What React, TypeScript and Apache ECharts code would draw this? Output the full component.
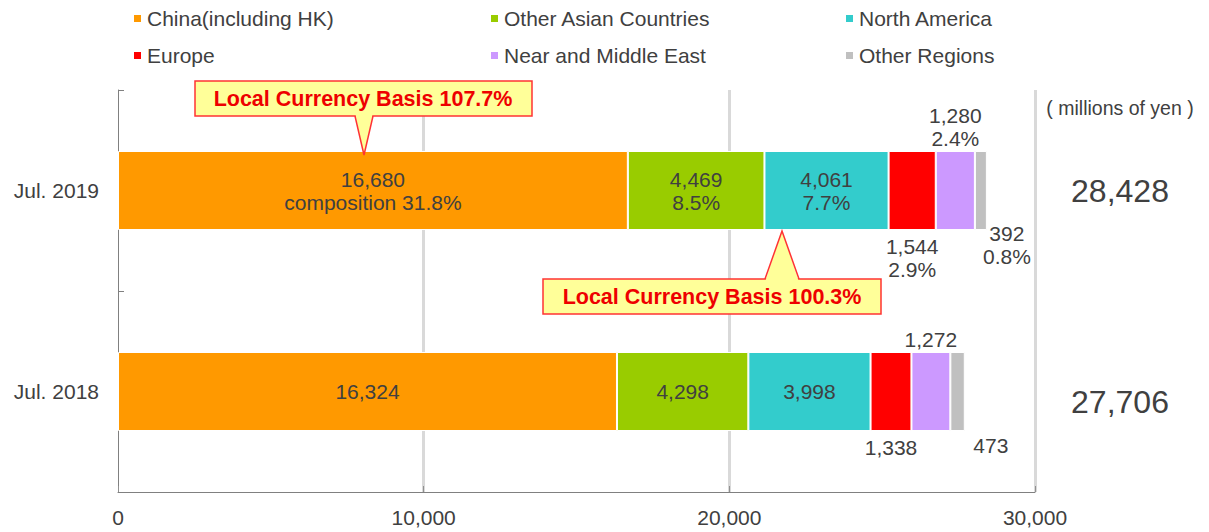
import React, { useEffect, useRef } from "react";
import * as echarts from "echarts";

const categories = ["Jul. 2018", "Jul. 2019"];
const regions = [
  "China(including HK)",
  "Other Asian Countries",
  "North America",
  "Europe",
  "Near and Middle East",
  "Other Regions",
];
const colors = ["#FF9900", "#99CC00", "#33CCCC", "#FF0000", "#CC99FF", "#C0C0C0"];
const values2018 = [16324, 4298, 3998, 1338, 1272, 473];
const values2019 = [16680, 4469, 4061, 1544, 1280, 392];
const share2019 = [31.8, 8.5, 7.7, 2.9, 2.4, 0.8];
const totals = [27706, 28428];
const xMin = 0;
const xMax = 30000;
const xInterval = 10000;
const unitLabel = "( millions of yen )";
const callouts = ["Local Currency Basis 107.7%", "Local Currency Basis 100.3%"];

const FONT = "'Liberation Sans', Arial, sans-serif";
const TXT = "#404040";
const FS = 21;

const fmt = (v: number) => v.toLocaleString("en-US");

function labelFor(i: number) {
  const base: any = {
    show: true,
    color: TXT,
    fontSize: FS,
    lineHeight: 23,
    fontFamily: FONT,
    formatter: (p: any) => {
      if (p.dataIndex === 1) {
        return i === 0
          ? `${fmt(p.value)}\ncomposition ${share2019[i]}%`
          : `${fmt(p.value)}\n${share2019[i]}%`;
      }
      return fmt(p.value);
    },
  };
  if (i < 3) return { ...base, position: "inside" };
  if (i === 3) return { ...base, position: "bottom", distance: 5 };
  if (i === 4) return { ...base, position: "top", distance: 1 };
  return { ...base, position: ["100%", "100%"], align: "center", verticalAlign: "middle" };
}

function dataFor(i: number) {
  const vals = [values2018[i], values2019[i]];
  if (i === 5) {
    return [
      { value: vals[0], label: { offset: [26, 14] } },
      { value: vals[1], label: { offset: [20, 15] } },
    ];
  }
  return vals;
}

const legendLefts = [127, 484, 839];
const legendTops = [3, 40];

export default function App() {
  const ref = useRef<HTMLDivElement>(null);
  useEffect(() => {
    if (!ref.current) return;
    const chart = echarts.init(ref.current, null, { renderer: "svg" });
    const calloutFill = "#FFFF99";
    const calloutStroke = "#FF3333";
    const calloutText = "#EE0000";
    const legends = regions.map((name, i) => ({
      left: legendLefts[i % 3],
      top: legendTops[Math.floor(i / 3)],
      itemWidth: 9,
      itemHeight: 9,
      icon: "rect",
      data: [name],
      textStyle: { fontSize: FS, color: TXT, fontFamily: FONT },
    }));
    chart.setOption({
      animation: false,
      textStyle: { fontFamily: FONT },
      legend: legends,
      grid: { left: 118, right: 174, top: 90, bottom: 40, containLabel: false },
      xAxis: {
        type: "value",
        min: xMin,
        max: xMax,
        interval: xInterval,
        axisLine: { show: true, lineStyle: { color: "#808080", width: 1 } },
        axisTick: { show: true, inside: true, length: 6, lineStyle: { color: "#909090" } },
        axisLabel: { fontSize: FS, color: TXT, fontFamily: FONT, margin: 15, formatter: (v: number) => fmt(v) },
        splitLine: { show: true, showMinLine: false, lineStyle: { color: "#D9D9D9", width: 3 } },
      },
      yAxis: {
        type: "category",
        data: categories,
        axisLine: { show: true, lineStyle: { color: "#808080", width: 1 } },
        axisTick: { show: true, inside: true, length: 6, lineStyle: { color: "#808080" } },
        axisLabel: { fontSize: FS, color: TXT, fontFamily: FONT, margin: 19 },
        splitLine: { show: false },
      },
      series: regions.map((name, i) => ({
        name,
        type: "bar",
        stack: "total",
        barWidth: 79,
        itemStyle: { color: colors[i], borderColor: "#ffffff", borderWidth: 1 },
        label: labelFor(i),
        data: dataFor(i),
      })),
      graphic: [
        {
          type: "text",
          z: 100,
          x: 1120,
          y: 108,
          style: { text: unitLabel, fill: TXT, font: `19.5px ${FONT}`, textAlign: "center", textVerticalAlign: "middle" },
        },
        {
          type: "text",
          z: 100,
          x: 1120,
          y: 191,
          style: { text: fmt(totals[1]), fill: TXT, font: `32px ${FONT}`, textAlign: "center", textVerticalAlign: "middle" },
        },
        {
          type: "text",
          z: 100,
          x: 1120,
          y: 402,
          style: { text: fmt(totals[0]), fill: TXT, font: `32px ${FONT}`, textAlign: "center", textVerticalAlign: "middle" },
        },
        // callout 1
        {
          type: "rect",
          z: 100,
          shape: { x: 195, y: 81, width: 337, height: 35 },
          style: { fill: calloutFill, stroke: calloutStroke, lineWidth: 1.5 },
        },
        {
          type: "polygon",
          z: 101,
          shape: { points: [[355.5, 114.5], [372.5, 114.5], [364, 155]] },
          style: { fill: calloutFill, stroke: "none" },
        },
        {
          type: "polyline",
          z: 102,
          shape: { points: [[355, 116], [364, 155], [373, 116]] },
          style: { fill: "none", stroke: calloutStroke, lineWidth: 1.5 },
        },
        {
          type: "text",
          z: 103,
          x: 363,
          y: 99,
          style: { text: callouts[0], fill: calloutText, font: `bold 21.5px ${FONT}`, textAlign: "center", textVerticalAlign: "middle" },
        },
        // callout 2
        {
          type: "rect",
          z: 100,
          shape: { x: 543, y: 279, width: 338, height: 35 },
          style: { fill: calloutFill, stroke: calloutStroke, lineWidth: 1.5 },
        },
        {
          type: "polygon",
          z: 101,
          shape: { points: [[765.5, 280.5], [798.5, 280.5], [782, 231]] },
          style: { fill: calloutFill, stroke: "none" },
        },
        {
          type: "polyline",
          z: 102,
          shape: { points: [[765, 279], [782, 231], [799, 279]] },
          style: { fill: "none", stroke: calloutStroke, lineWidth: 1.5 },
        },
        {
          type: "text",
          z: 103,
          x: 712,
          y: 297,
          style: { text: callouts[1], fill: calloutText, font: `bold 21.5px ${FONT}`, textAlign: "center", textVerticalAlign: "middle" },
        },
      ],
    });
    return () => chart.dispose();
  }, []);
  return (
    <div
      ref={ref}
      style={{ position: "fixed", left: 0, top: 0, width: 1209, height: 532, background: "#fff" }}
    />
  );
}
